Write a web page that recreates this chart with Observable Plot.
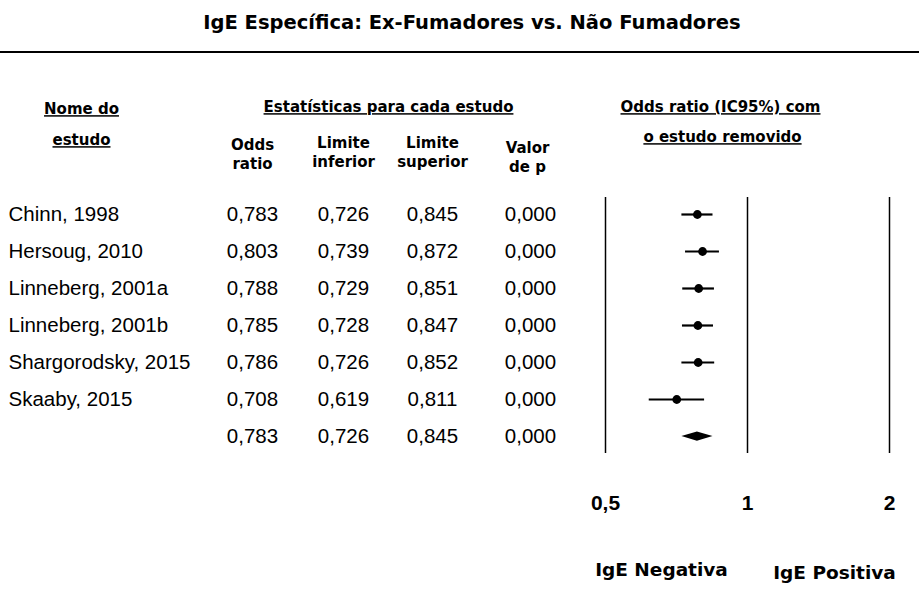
<!DOCTYPE html>
<html><head><meta charset="utf-8">
<script src="https://cdn.jsdelivr.net/npm/d3@7"></script>
<script src="https://cdn.jsdelivr.net/npm/@observablehq/plot@0.6"></script>
<style>
body{margin:0;background:#fff;}
#title{height:51px;border-bottom:2px solid #000;font:bold 19.5px "DejaVu Sans";text-align:center;line-height:45px;color:#000;padding-left:25px;}
#chart svg{display:block;}
</style></head>
<body>
<div id="title">IgE Específica: Ex-Fumadores vs. Não Fumadores</div>
<div id="chart"></div>
<script>
// ---- data ----
const studies = ["Chinn, 1998","Hersoug, 2010","Linneberg, 2001a","Linneberg, 2001b","Shargorodsky, 2015","Skaaby, 2015",""];
const oddsRatio = [0.783,0.803,0.788,0.785,0.786,0.708,0.783];
const lower = [0.726,0.739,0.729,0.728,0.726,0.619,0.726];
const upper = [0.845,0.872,0.851,0.847,0.852,0.811,0.845];
const pValue = [0.000,0.000,0.000,0.000,0.000,0.000,0.000];
const tickValues = [0.5,1,2];
const tickLabels = ["0,5","1","2"];
const underlinedHeaders = ["Nome do","estudo","Estatísticas para cada estudo","Odds ratio (IC95%) com","o estudo removido"];
const columnHeaders = ["Odds\nratio","Limite\ninferior","Limite\nsuperior","Valor\nde p"];
const sideLabels = ["IgE Negativa","IgE Positiva"];

// ---- build ----
const rows = studies.map((s,i)=>({i, study:s, or:oddsRatio[i], lo:lower[i], hi:upper[i], p:pValue[i]}));
const individual = rows.slice(0, rows.length-1);
const summary = rows[rows.length-1];
const fmt = v => d3.format(".3f")(v).replace(".", ",");
const dataFont = "Liberation Sans, Arial, sans-serif";
const headFont = "DejaVu Sans, sans-serif";
const colX = [252, 343, 432, 530];
const halfH = 0.125;
const diamond = [
  {x: summary.lo, y1: summary.i, y2: summary.i},
  {x: summary.or, y1: summary.i - halfH, y2: summary.i + halfH},
  {x: summary.hi, y1: summary.i, y2: summary.i}
];
const hdrPos = [[81,50],[81,81],[388,48],[720,48],[722,78]];
const colHdrY = [100,98,98,103];
const sidePos = [[661,509],[834,512]];

const marks = [];
// vertical reference lines
marks.push(Plot.ruleX(tickValues, {y1: 0, y2: rows.length-1, insetTop: -17, insetBottom: -17, stroke: "#000", strokeWidth: 1.5}));
// CI lines + points
marks.push(Plot.ruleY(individual, {y: "i", x1: "lo", x2: "hi", stroke: "#000", strokeWidth: 2.2}));
marks.push(Plot.dot(individual, {x: "or", y: "i", r: 4.4, fill: "#000", stroke: "none"}));
// summary diamond
marks.push(Plot.areaY(diamond, {x: "x", y1: "y1", y2: "y2", fill: "#000", curve: "linear"}));
// table text
marks.push(Plot.text(rows, {y: "i", text: "study", frameAnchor: "left", dx: 8, textAnchor: "start", fontSize: 20.5, fontFamily: dataFont, fill: "#000"}));
const cols = ["or","lo","hi","p"];
cols.forEach((c,k)=>{
  marks.push(Plot.text(rows, {y: "i", text: d => fmt(d[c]), frameAnchor: "left", dx: colX[k], textAnchor: "middle", fontSize: 20.5, fontFamily: dataFont, fill: "#000"}));
});
// headers
underlinedHeaders.forEach((h,k)=>{
  marks.push(Plot.text([h], {text: d=>d, frameAnchor: "top-left", dx: hdrPos[k][0], dy: hdrPos[k][1], textAnchor: "middle", fontSize: 15, fontWeight: "bold", fontFamily: headFont, fill: "#000"}));
});
columnHeaders.forEach((h,k)=>{
  marks.push(Plot.text([h], {text: d=>d, frameAnchor: "top-left", dx: colX[k] - (k===3?3:0), dy: colHdrY[k], textAnchor: "middle", lineAnchor: "middle", lineHeight: 1.3, fontSize: 15, fontWeight: "bold", fontFamily: headFont, fill: "#000"}));
});
// tick labels
marks.push(Plot.text(tickValues, {x: d=>d, text: (d,i)=>tickLabels[i], frameAnchor: "top", dy: 442, textAnchor: "middle", fontSize: 21, fontWeight: "bold", fontFamily: dataFont, fill: "#000"}));
// side labels
sideLabels.forEach((s,k)=>{
  marks.push(Plot.text([s], {text: d=>d, frameAnchor: "top-left", dx: sidePos[k][0], dy: sidePos[k][1], textAnchor: "middle", fontSize: 18.5, fontWeight: "bold", fontFamily: headFont, fill: "#000"}));
});

const chart = Plot.plot({
  width: 919,
  height: 540,
  marginTop: 0, marginBottom: 0, marginLeft: 0, marginRight: 0,
  style: {background: "#fff", color: "#000", overflow: "visible"},
  x: {type: "log", domain: [0.5, 2], range: [605, 889], axis: null},
  y: {type: "linear", domain: [0, rows.length-1], range: [161, 383], axis: null},
  marks
});
d3.select(chart).selectAll("text").each(function(){
  if (underlinedHeaders.includes(this.textContent)) this.style.textDecoration = "underline";
});
document.getElementById("chart").appendChild(chart);
</script>
</body></html>
